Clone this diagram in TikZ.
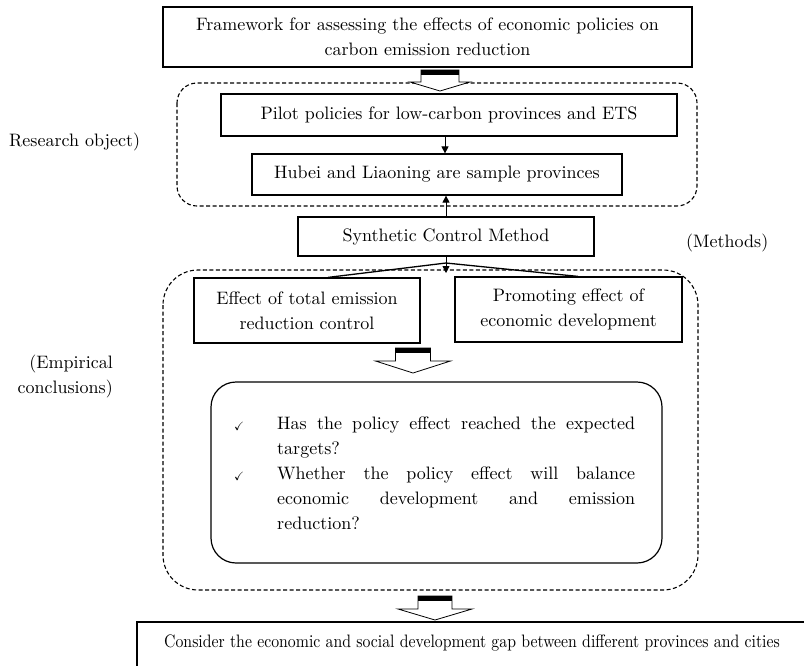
\documentclass[tikz,border=0pt]{standalone}
\usepackage{amssymb}
\usepackage{fontspec}
\setmainfont{lmroman10-regular}[Extension=.otf]
\usetikzlibrary{arrows.meta}
\newcommand{\BlockArrow}[6]{% x, ytop, shaft half width, head half width, shaft height, head height
  \filldraw[fill=white,draw=black,line width=0.8pt]
    ({#1-#3},{#2}) -- ({#1-#3},{#2+#5}) -- ({#1-#4},{#2+#5}) -- ({#1},{#2+#5+#6})
    -- ({#1+#4},{#2+#5}) -- ({#1+#3},{#2+#5}) -- ({#1+#3},{#2}) -- cycle;
  \fill[black] ({#1-#3},{#2}) rectangle ({#1+#3},{#2+5});
}
\tikzset{
  every node/.style={font=\fontsize{18}{25}\selectfont, inner sep=0pt},
  plainbox/.style={draw, line width=1.2pt, rectangle, align=center},
  grpframe/.style={draw, line width=1.1pt, dash pattern=on 4pt off 2.5pt},
  conn/.style={line width=0.8pt, -{Triangle[length=7pt,width=7pt]}},
  itemtext/.style={anchor=north west, text width=358pt, align=justify},
  chk/.style={font=\fontsize{12}{12}\selectfont}
}
\begin{document}
\begin{tikzpicture}[x=1pt,y=-1pt]
\useasboundingbox (0,0) rectangle (804,665);
\fill[white] (0,0) rectangle (804,665);

% top box
\node[plainbox, minimum width=529pt, minimum height=60pt] (top) at (427.5,37)
  {Framework for assessing the effects of economic policies on\\carbon emission reduction};

% group frame 1
\draw[grpframe, rounded corners=20pt] (177,83) rectangle (697,206);
\BlockArrow{440}{70}{19}{30}{12}{9}

\node[plainbox, minimum width=456pt, minimum height=42pt] (pilot) at (449,115)
  {Pilot policies for low-carbon provinces and ETS};
\node[plainbox, minimum width=370pt, minimum height=41pt] (hubei) at (437,174.5)
  {Hubei and Liaoning are sample provinces};
\coordinate (ax) at (445,0);
\draw[conn] (pilot.south -| ax) -- (hubei.north -| ax);

\node[anchor=west] (robj) at (9,142) {Research object)};

% synthetic control
\node[plainbox, minimum width=296pt, minimum height=39pt] (scm) at (446,236.5)
  {Synthetic Control Method};
\draw[conn] (scm.north) -- (hubei.south -| scm.north);
\node[anchor=west] (meth) at (686,243) {(Methods)};

% group frame 2
\draw[grpframe, rounded corners=35pt] (163,270) rectangle (698,590);

\node[plainbox, minimum width=226pt, minimum height=65pt] (left) at (307,310.5)
  {Effect of total emission\\reduction control};
\node[plainbox, minimum width=227pt, minimum height=65pt] (right) at (568.5,309.5)
  {Promoting effect of\\economic development};

\coordinate (apex) at (446,263);
\coordinate (tip) at (446,273);
\coordinate (lx) at (328,0);
\coordinate (rx) at (578,0);
\draw[line width=1.3pt] (left.north -| lx) -- (apex) -- (right.north -| rx);
\draw[conn] (scm.south) -- (tip);

\node[align=right, anchor=east] (emp) at (113,376) {(Empirical\\conclusions)};

\BlockArrow{413}{348}{17.5}{37.5}{13}{12}

% rounded box
\node[draw, line width=1.2pt, rounded corners=25pt, minimum width=451pt, minimum height=181pt] (concl) at (436.5,472.5) {};
\node[chk] (c1) at (239,426) {$\checkmark$};
\node[itemtext] (item1) at (277,417)
  {Has the policy effect reached the expected\linebreak targets?};
\node[chk] (c2) at (239,476) {$\checkmark$};
\node[itemtext] (item2) at (277,467)
  {Whether the policy effect will balance\linebreak economic development and emission\linebreak reduction?};

\BlockArrow{435}{596}{17}{37}{13}{11}

% bottom box
\node[plainbox, minimum width=673pt, minimum height=48pt] (bottom) at (473.5,646) {};
\node (btext) at (472,643) {\scalebox{0.877}[1]{Consider the economic and social development gap between different provinces and cities}};
\end{tikzpicture}
\end{document}
